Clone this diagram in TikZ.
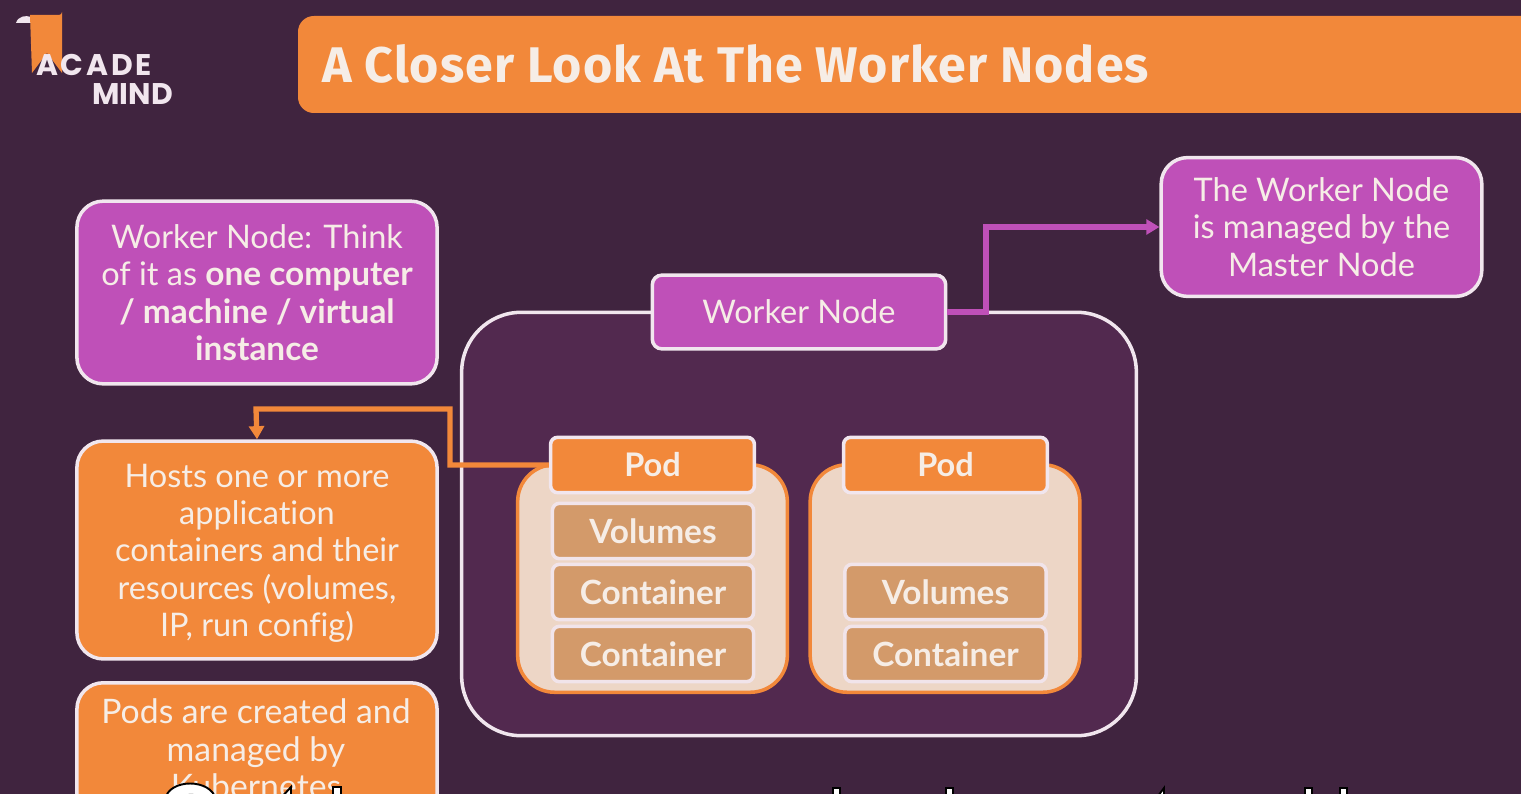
\documentclass[tikz,border=0pt]{standalone}
\usepackage{fontspec}
\setmainfont{Lato}[Ligatures=NoCommon]
\newfontfamily\titlefont[LetterSpace=2.2]{Fira Sans}
\newfontfamily\logofont{Poppins}
\usetikzlibrary{arrows.meta}
\definecolor{bgc}{HTML}{40243F}
\definecolor{panelc}{HTML}{52294F}
\definecolor{orangec}{HTML}{F2883A}
\definecolor{purplec}{HTML}{BF50B8}
\definecolor{rimc}{HTML}{F1E6EE}
\definecolor{podc}{HTML}{EDD6C6}
\definecolor{contc}{HTML}{D39A6A}
\definecolor{txtc}{HTML}{F6EDE6}
\newcommand{\bodyfont}{\fontsize{18.5}{21.3}\selectfont}
\newcommand{\emphtext}[1]{{\fontsize{19}{21.3}\selectfont\bfseries #1}}
\tikzset{
 x=0.02cm,y=-0.02cm,
 infobox/.style={draw=rimc,line width=2pt,rounded corners=15pt,align=center,text=txtc,font=\bodyfont,inner sep=0pt},
 purplebox/.style={infobox,fill=purplec},
 orangebox/.style={infobox,fill=orangec},
 podhead/.style={draw=rimc,line width=2pt,fill=orangec,rounded corners=4pt,text=txtc,font=\fontsize{18.5}{21}\selectfont\bfseries,minimum width=116pt,minimum height=31.5pt,inner sep=0pt},
 contbox/.style={draw=rimc!90!podc,line width=2pt,fill=contc,rounded corners=4pt,text=txtc,font=\fontsize{19}{21}\selectfont\bfseries,minimum width=114.5pt,minimum height=31.5pt,inner sep=0pt},
 podbody/.style={draw=orangec,line width=2pt,fill=podc,rounded corners=21pt,minimum width=153.5pt,minimum height=129.5pt,inner sep=0pt},
 panelbox/.style={draw=rimc,line width=2pt,fill=panelc,rounded corners=34pt,minimum width=384pt,minimum height=241pt,inner sep=0pt},
 conn/.style={line width=3pt},
 logotext/.style={text=rimc,font=\logofont\fontsize{17}{17}\selectfont\bfseries,inner sep=0pt},
 strayline/.style={text=txtc,font=\fontsize{19.2}{21.3}\selectfont,anchor=base,inner sep=0pt},
 captip/.style={fill=white,draw=black,line width=1.1pt},
}
\begin{document}
\begin{tikzpicture}
\useasboundingbox (0,0) rectangle (1521,794);
\clip (0,0) rectangle (1521,794);
\fill[bgc] (0,0) rectangle (1521,794);
% logo
\fill[rimc] (16,23) .. controls (18,16) and (26,15) .. (31,17) -- (31,23) -- cycle;
\fill[orangec] (30,15) -- (59,15) arc[start angle=90,end angle=0,radius=3] -- (62,73) -- (47,53) -- (32,73) -- cycle;
\node[logotext,anchor=base west] (acade) at (36,76) {A\kern1.5pt C\kern1.5pt A\kern1.5pt D\kern1.5pt E};
\node[logotext,anchor=base west] (mind) at (92,105) {MIND};
% title
\fill[orangec,rounded corners=9pt] (298,16) rectangle (1560,113);
\node[anchor=base west,inner sep=0pt,text=txtc,font=\titlefont\fontsize{28.5}{28.5}\selectfont\bfseries] (title) at (322,83) {A Closer Look At The Worker Nodes};
% worker panel
\node[panelbox] (panel) at (799,524) {};
\node[purplebox,rounded corners=5.5pt,minimum width=167pt,minimum height=42pt] (worker) at (799,312) {Worker Node};
\node[purplebox,minimum width=182.5pt,minimum height=79pt] (master) at (1321.5,227) {The Worker Node\\is managed by the\\Master Node};
\node[purplebox,minimum width=205pt,minimum height=104pt] (think) at (257,292.5) {Worker Node: Think\\of it as \emphtext{one computer}\\\emphtext{/ machine / virtual}\\\emphtext{instance}};
\node[orangebox,minimum width=205pt,minimum height=124pt] (hosts) at (257,550) {\rule{0pt}{17pt}Hosts one or more\\application\\containers and their\\resources (volumes,\\IP, run config)};
\node[orangebox,anchor=north,minimum width=205pt,minimum height=130pt] (created) at (257,681) {};
\node[strayline] (c1) at (256,723) {Pods are created and};
\node[strayline] (c2) at (256,761) {managed by};
\node[strayline] (c3) at (256,798) {Kubernetes};
% pods
\node[podbody] (bodyA) at (652.5,578.5) {};
\node[podbody] (bodyB) at (945,578.5) {};
\node[podhead] (podA) at (652.5,465) {Pod};
\node[podhead] (podB) at (945.5,465) {Pod};
\node[contbox] (volA) at (653,531) {Volumes};
\node[contbox] (contA) at (653,592) {Container};
\node[contbox] (contAb) at (653,654) {Container};
\node[contbox] (volB) at (945.5,592) {Volumes};
\node[contbox] (contB) at (945.5,654) {Container};
% connectors
\draw[conn,purplec,-{Triangle[length=7.5pt,width=8.5pt]}] (worker.east) -- (986,312) -- (986,227) -- (master.west);
\draw[conn,orangec,-{Triangle[length=7.5pt,width=8.5pt]}] (podA.west) -- (450,465) -- (450,409) -- (256,409) -- (hosts.north);
% tips of the cropped caption
\draw[captip] (165,800) .. controls (168,778) and (212,778) .. (216,800) -- (202,800) .. controls (200,793) and (182,793) .. (180,800) -- cycle;
\draw[captip] (279,800) -- (291,787) -- (291,800) -- cycle;
\draw[captip] (333,800) -- (333,787) -- (341,787) -- (341,800) -- cycle;
\draw[captip] (833,800) -- (833,788) -- (840,788) -- (840,800) -- cycle;
\draw[captip] (946,800) -- (946,788) -- (953,788) -- (953,800) -- cycle;
\draw[captip] (1155,800) -- (1164,788) -- (1164,800) -- cycle;
\draw[captip] (1305,800) -- (1305,788) -- (1312,788) -- (1312,800) -- cycle;
\draw[captip] (1340,800) -- (1340,788) -- (1347,788) -- (1347,800) -- cycle;
\end{tikzpicture}
\end{document}
